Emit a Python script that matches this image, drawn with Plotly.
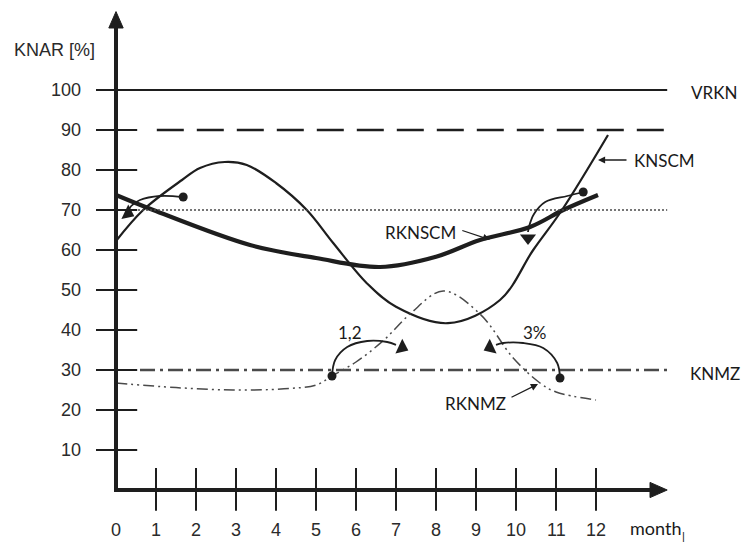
import plotly.graph_objects as go

# ---------------- data ----------------
months = list(range(0, 13))
month_labels = [str(m) for m in months]
knar_ticks = [10, 20, 30, 40, 50, 60, 70, 80, 90, 100]
knar_labels = [str(v) for v in knar_ticks]

# horizontal reference levels
vrkn_level = 100
upper_level = 90
mid_level = 70
knmz_level = 30

# KNSCM (thin solid curve)
knscm_x = [0, 0.68, 1.65, 2.1, 2.72, 3.27, 4.0, 4.77, 5.43, 6.27, 7.0, 8.3, 9.6, 10.43, 11.15, 12.3]
knscm_y = [62.25, 70, 77.5, 80.5, 82, 81.25, 76.75, 70, 61.75, 51.7, 45.8, 41.7, 47.5, 60, 70, 88.75]

# RKNSCM (thick solid curve)
rknscm_x = [0, 0.93, 3.35, 5.0, 6.6, 8.0, 9.1, 10.35, 11.18, 12.05]
rknscm_y = [73.75, 70, 61.25, 58, 55.75, 58.3, 62.5, 65.75, 70, 73.75]

# RKNMZ (dash-dot-dot curve)
rknmz_x = [0, 1.5, 2.93, 4.2, 5.0, 5.4, 6.0, 6.7, 7.35, 8.18, 9.1, 9.93, 10.6, 11.0, 12.0]
rknmz_y = [26.75, 25.6, 25, 25.3, 26.25, 28.5, 32, 37.5, 44, 49.75, 44, 33, 26.75, 24.5, 22.5]

# curved annotation arrows (start dot -> arc -> head)
arc1_x = [1.68, 1.1, 0.6, 0.38, 0.32]
arc1_y = [73.25, 73.5, 72.5, 71.0, 70.0]
arc2_x = [11.68, 11.28, 10.73, 10.45, 10.33, 10.3]
arc2_y = [74.5, 73.5, 72, 69, 66, 64.5]
arc3_x = [5.4, 5.48, 5.78, 6.28, 6.78, 7.0]
arc3_y = [28.5, 32.5, 35.75, 37.25, 37, 36.3]
arc4_x = [11.1, 11.03, 10.68, 10.18, 9.68, 9.5]
arc4_y = [28, 31.75, 35.5, 36.75, 36.75, 36.3]
heads_x = [0.3, 10.3, 7.15, 9.35]
heads_y = [69.2, 63.0, 35.6, 35.6]
heads_angle = [115, 180, 115, 245]

# ---------------- figure ----------------
INK = "#1e1e1e"
GREY = "#4a4a4a"
XR = [-2.9, 15.65]
YR = [-13.25, 122.5]

fig = go.Figure()

# curves
fig.add_trace(go.Scatter(x=knscm_x, y=knscm_y, mode="lines",
                         line=dict(color=INK, width=2.2, shape="spline", smoothing=1.0),
                         hoverinfo="skip", showlegend=False))
fig.add_trace(go.Scatter(x=rknscm_x, y=rknscm_y, mode="lines",
                         line=dict(color=INK, width=4.2, shape="spline", smoothing=1.0),
                         hoverinfo="skip", showlegend=False))
fig.add_trace(go.Scatter(x=rknmz_x, y=rknmz_y, mode="lines",
                         line=dict(color=GREY, width=1.5, shape="spline", smoothing=1.0,
                                   dash="11px,4px,2px,4px,2px,4px"),
                         hoverinfo="skip", showlegend=False))

# curved arrows
for ax_, ay_ in [(arc1_x, arc1_y), (arc2_x, arc2_y), (arc3_x, arc3_y), (arc4_x, arc4_y)]:
    fig.add_trace(go.Scatter(x=ax_, y=ay_, mode="lines",
                             line=dict(color=INK, width=1.8, shape="spline", smoothing=1.0),
                             hoverinfo="skip", showlegend=False))
    fig.add_trace(go.Scatter(x=[ax_[0]], y=[ay_[0]], mode="markers",
                             marker=dict(color=INK, size=9, symbol="circle"),
                             hoverinfo="skip", showlegend=False))
fig.add_trace(go.Scatter(x=heads_x, y=heads_y, mode="markers",
                         marker=dict(color=INK, size=14, symbol="triangle-up",
                                     angle=heads_angle, line=dict(width=0)),
                         hoverinfo="skip", showlegend=False))

shapes = []
# horizontal reference lines
x_line_end = 13.78
shapes.append(dict(type="line", xref="x", yref="y", x0=-0.5, x1=x_line_end,
                   y0=vrkn_level, y1=vrkn_level, line=dict(color=INK, width=2)))
shapes.append(dict(type="line", xref="x", yref="y", x0=1.02, x1=x_line_end,
                   y0=upper_level, y1=upper_level,
                   line=dict(color=INK, width=2.6, dash="27px,13px")))
shapes.append(dict(type="line", xref="x", yref="y", x0=0.55, x1=x_line_end,
                   y0=mid_level, y1=mid_level,
                   line=dict(color=GREY, width=1.5, dash="2px,2px")))
shapes.append(dict(type="line", xref="x", yref="y", x0=0.6, x1=13.88,
                   y0=knmz_level, y1=knmz_level,
                   line=dict(color=GREY, width=2.4, dash="15px,5px,3px,5px")))

# y ticks (crossing the axis)
for v in knar_ticks:
    shapes.append(dict(type="line", xref="x", yref="y", x0=-0.5, x1=0.53, y0=v, y1=v,
                       line=dict(color=INK, width=2)))
# x ticks (crossing the axis)
for m in months[1:]:
    shapes.append(dict(type="line", xref="x", yref="y", x0=m, x1=m, y0=5.5, y1=-5.2,
                       line=dict(color=INK, width=2)))

# axes with arrows
shapes.append(dict(type="line", xref="x", yref="y", x0=0, x1=0, y0=-0.5, y1=116,
                   line=dict(color=INK, width=4)))
shapes.append(dict(type="line", xref="x", yref="y", x0=-0.05, x1=13.4, y0=0, y1=0,
                   line=dict(color=INK, width=4)))
shapes.append(dict(type="path", xref="x", yref="y",
                   path="M -0.18,115.5 L 0.18,115.5 L 0,119.6 Z",
                   fillcolor=INK, line=dict(color=INK, width=1)))
shapes.append(dict(type="path", xref="x", yref="y",
                   path="M 13.35,-1.9 L 13.35,1.9 L 13.78,0 Z",
                   fillcolor=INK, line=dict(color=INK, width=1)))

annotations = []
TICKFONT = dict(family="Liberation Sans, Arial, sans-serif", size=18, color="#2a2a2a")
LBLFONT = dict(family="Lato, sans-serif", size=17, color="#1a1a1a")

for v, lab in zip(knar_ticks, knar_labels):
    annotations.append(dict(x=-0.82, y=v, xref="x", yref="y", text=lab, showarrow=False,
                            xanchor="right", yanchor="middle", font=TICKFONT))
for m, lab in zip(months, month_labels):
    annotations.append(dict(x=m, y=-10.1, xref="x", yref="y", text=lab, showarrow=False,
                            xanchor="center", yanchor="middle", font=TICKFONT))

annotations.append(dict(x=-2.6, y=110, xref="x", yref="y", text="KNAR [%]", showarrow=False,
                        xanchor="left", yanchor="middle", font=TICKFONT))
annotations.append(dict(x=12.8, y=-9.6, xref="x", yref="y", text="month", showarrow=False,
                        xanchor="left", yanchor="middle",
                        font=dict(family="Lato, sans-serif", size=18, color="#1a1a1a")))
annotations.append(dict(x=14.18, y=-11.4, xref="x", yref="y", text="|", showarrow=False,
                        xanchor="center", yanchor="middle",
                        font=dict(family="Liberation Sans, Arial", size=11, color="#1a1a1a")))

annotations.append(dict(x=14.32, y=99.5, xref="x", yref="y", text="VRKN", showarrow=False,
                        xanchor="left", yanchor="middle", font=LBLFONT))
annotations.append(dict(x=12.9, y=82.5, xref="x", yref="y", text="KNSCM", showarrow=False,
                        xanchor="left", yanchor="middle", font=LBLFONT))
annotations.append(dict(x=14.3, y=29.25, xref="x", yref="y", text="KNMZ", showarrow=False,
                        xanchor="left", yanchor="middle", font=LBLFONT))
annotations.append(dict(x=6.68, y=64.5, xref="x", yref="y", text="RKNSCM", showarrow=False,
                        xanchor="left", yanchor="middle", font=LBLFONT))
annotations.append(dict(x=8.18, y=21.75, xref="x", yref="y", text="RKNMZ", showarrow=False,
                        xanchor="left", yanchor="middle", font=LBLFONT))
annotations.append(dict(x=5.85, y=39.3, xref="x", yref="y", text="1,2", showarrow=False,
                        xanchor="center", yanchor="middle", font=LBLFONT))
annotations.append(dict(x=10.48, y=39.5, xref="x", yref="y", text="3%", showarrow=False,
                        xanchor="center", yanchor="middle", font=LBLFONT))

# straight pointer arrows from labels to curves
for (tx, ty, hx, hy) in [(12.8, 82.5, 12.05, 82.5),
                         (8.62, 65.0, 9.35, 62.6),
                         (9.85, 23.0, 10.55, 26.5)]:
    annotations.append(dict(x=hx, y=hy, ax=tx, ay=ty, xref="x", yref="y", axref="x", ayref="y",
                            text="", showarrow=True, arrowhead=2, arrowsize=1.1,
                            arrowwidth=1.3, arrowcolor=INK, standoff=0, startstandoff=0))

fig.update_layout(
    width=742, height=543,
    margin=dict(l=0, r=0, t=0, b=0),
    paper_bgcolor="white", plot_bgcolor="white",
    xaxis=dict(range=XR, visible=False, fixedrange=True),
    yaxis=dict(range=YR, visible=False, fixedrange=True),
    shapes=shapes, annotations=annotations, showlegend=False,
)

fig.write_html("out.html", config={"displayModeBar": False},
               post_script="document.body.style.margin='0px';document.body.style.overflow='hidden';")
